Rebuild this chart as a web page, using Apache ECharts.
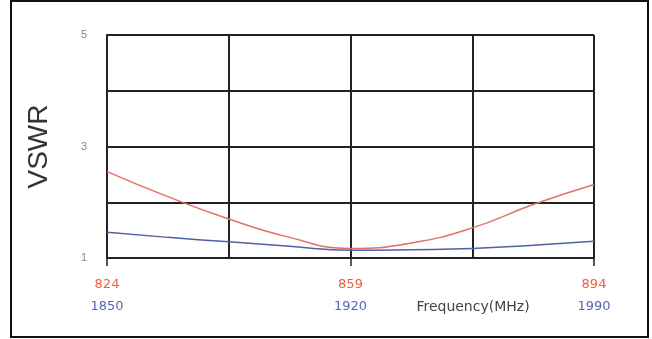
<!DOCTYPE html>
<html>
<head>
<meta charset="utf-8">
<script src="https://cdn.jsdelivr.net/npm/echarts@6/dist/echarts.min.js"></script>
<style>
  html, body { margin: 0; padding: 0; background: #fff; }
  #vswr { width: 652px; height: 339px; }
</style>
</head>
<body>
<div id="vswr"></div>
<script>
// band frequencies (MHz), sampled at eighths of the span
var lowBand = ['824', '832.75', '841.5', '850.25', '859', '867.75', '876.5', '885.25', '894'];
var highBand = ['1850', '1867.5', '1885', '1902.5', '1920', '1937.5', '1955', '1972.5', '1990'];
// VSWR
var lowVswr = [2.55, 2.1, 1.7, 1.37, 1.17, 1.27, 1.54, 1.96, 2.32];
var highVswr = [1.46, 1.37, 1.29, 1.21, 1.14, 1.15, 1.17, 1.23, 1.30];
var yTicks = [1, 3, 5];

var gridLine = {color: '#222', width: 2};

function everyFour(i) { return i % 4 === 0; }
function everyTwo(i) { return i % 2 === 0; }

var chart = echarts.init(document.getElementById('vswr'));
chart.setOption({
    animation: false,
    backgroundColor: '#fff',
    grid: {left: 107, right: 58, top: 35, bottom: 81},
    graphic: [
        {
            type: 'rect',
            shape: {x: 11, y: 1, width: 637, height: 336},
            style: {fill: 'none', stroke: '#111', lineWidth: 2}
        },
        {
            type: 'text',
            x: 473, y: 307,
            style: {
                text: 'Frequency(MHz)',
                fill: '#444',
                font: '14px "DejaVu Sans"',
                align: 'center',
                verticalAlign: 'middle'
            }
        }
    ],
    xAxis: [
        {
            type: 'category',
            data: lowBand,
            boundaryGap: false,
            position: 'bottom',
            axisLine: {show: true, lineStyle: gridLine},
            axisTick: {show: true, interval: everyFour, length: 8, lineStyle: {color: '#222', width: 1.5}},
            axisLabel: {
                interval: everyFour, margin: 20, color: '#e8603c',
                fontFamily: 'DejaVu Sans', fontSize: 13
            },
            splitLine: {show: true, interval: everyTwo, lineStyle: gridLine}
        },
        {
            type: 'category',
            data: highBand,
            boundaryGap: false,
            position: 'bottom',
            offset: 22,
            axisLine: {show: false},
            axisTick: {show: false},
            axisLabel: {
                interval: everyFour, margin: 20, color: '#5868b0',
                fontFamily: 'DejaVu Sans', fontSize: 13
            },
            splitLine: {show: false}
        }
    ],
    yAxis: [
        {
            type: 'value',
            min: 1,
            max: 5,
            interval: 1,
            name: 'VSWR',
            nameLocation: 'middle',
            nameRotate: 90,
            nameGap: 54,
            nameTextStyle: {fontSize: 28, color: '#333', fontFamily: 'Liberation Sans'},
            axisLine: {show: true, lineStyle: gridLine},
            axisTick: {show: false},
            axisLabel: {
                margin: 20, color: '#888', fontSize: 11, fontFamily: 'Liberation Sans',
                formatter: function (v) { return yTicks.indexOf(v) >= 0 ? String(v) : ''; }
            },
            splitLine: {show: true, lineStyle: gridLine}
        }
    ],
    series: [
        {
            name: '824-894',
            type: 'line',
            xAxisIndex: 0,
            data: lowVswr,
            smooth: 0.5,
            symbol: 'none',
            lineStyle: {color: '#e0706a', width: 1.5}
        },
        {
            name: '1850-1990',
            type: 'line',
            xAxisIndex: 1,
            data: highVswr,
            smooth: 0.5,
            symbol: 'none',
            lineStyle: {color: '#5060a8', width: 1.5}
        }
    ]
});

window.addEventListener('resize', function () {
    chart.resize();
});
</script>
</body>
</html>
